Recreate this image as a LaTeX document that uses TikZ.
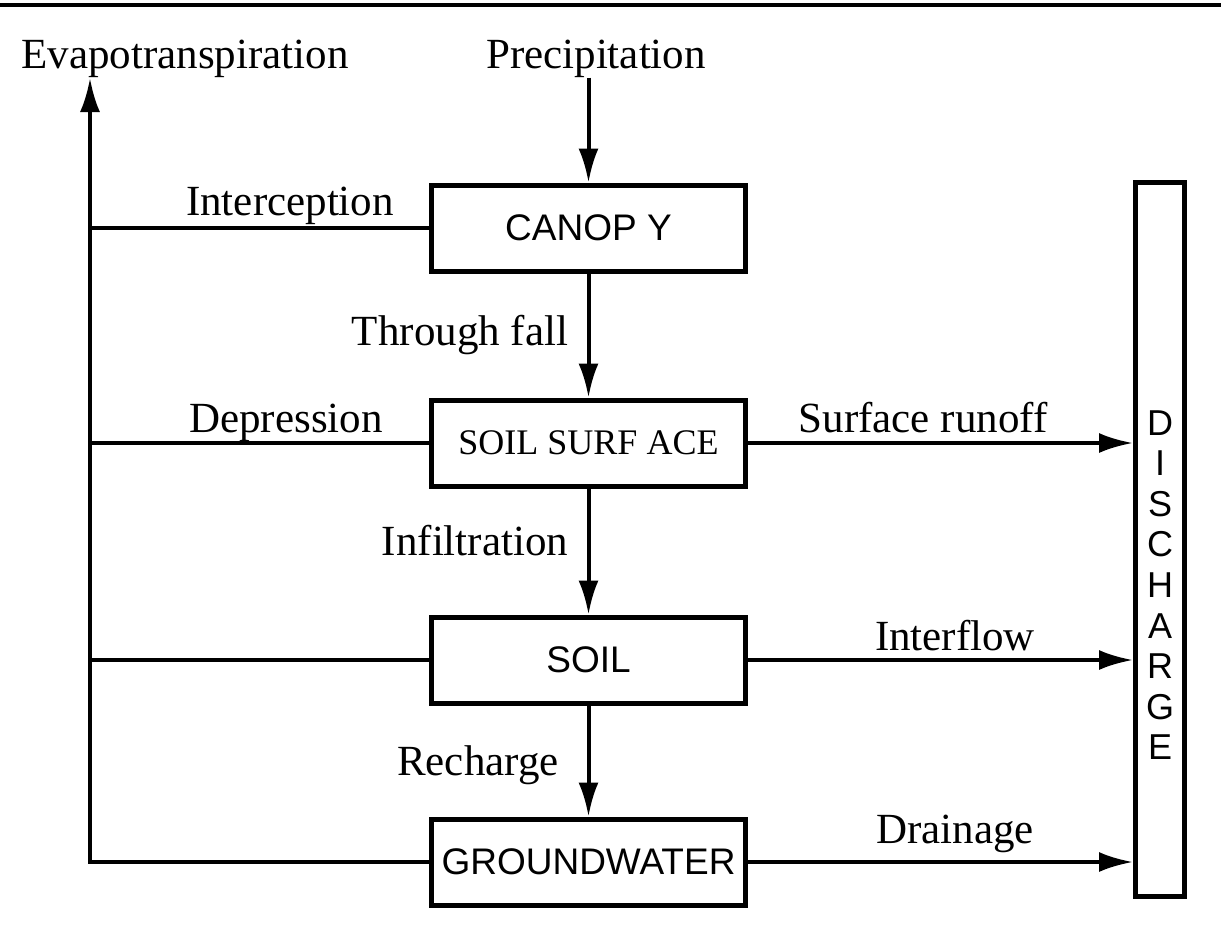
\documentclass[tikz,border=0pt]{standalone}
\usepackage{fontspec}
\setmainfont{Liberation Serif}
\setsansfont{Liberation Sans}
\usetikzlibrary{arrows.meta,positioning}

\tikzset{
  store/.style={draw, line width=2.5pt, minimum width=157pt, minimum height=43pt, inner sep=0pt,
    font=\sffamily\fontsize{18.5}{20}\selectfont},
  lbl/.style={font=\fontsize{21.5}{24}\selectfont, inner sep=0pt, anchor=base},
  flow/.style={line width=2pt},
  flowarrow/.style={flow, -{Latex[length=17pt,width=10pt]}},
}

\begin{document}
\begin{tikzpicture}[x=0.5pt,y=-0.5pt]
    \useasboundingbox (0,0) rectangle (1221,949);
    \draw[line width=2pt] (0,5) -- (1221,5);

    % storages
    \node[store] (canopy) at (588.5,228) {CANOP Y};
    \node[store,font=\fontsize{18}{20}\selectfont] (surf) at (588.5,443) {SOIL SURF ACE};
    \node[store] (soil) at (588.5,660) {SOIL};
    \node[store] (gw) at (588.5,862) {GROUNDWATER};
    \node[draw, line width=2.5pt, minimum width=24.5pt, minimum height=357pt, inner sep=0pt] (discharge) at (1160,539.5) {};
    \node[font=\sffamily\fontsize{18}{20.3}\selectfont, align=center, inner sep=0pt] (dtext) at (1160,585)
        {D\\I\\S\\C\\H\\A\\R\\G\\E};

    % inputs and outputs
    \node[lbl] (evap) at (185,68) {Evapotranspiration};
    \node[lbl] (precip) at (596,68) {Precipitation};
    \coordinate (evtop) at (90,78);

    % flux labels
    \node[lbl] (lintercept) at (290,215) {Interception};
    \node[lbl] (lthrough) at (460,345) {Through fall};
    \node[lbl] (ldepress) at (286,432) {Depression};
    \node[lbl] (lrunoff) at (923,432) {Surface runoff};
    \node[lbl] (linfil) at (475,555) {Infiltration};
    \node[lbl] (linter) at (955,650) {Interflow};
    \node[lbl] (lrecharge) at (478,775) {Recharge};
    \node[lbl] (ldrain) at (955,843) {Drainage};

    % vertical fluxes
    \draw[flowarrow] (precip.south -| canopy.north) -- (canopy.north);
    \draw[flowarrow] (canopy) -- (surf);
    \draw[flowarrow] (surf) -- (soil);
    \draw[flowarrow] (soil) -- (gw);

    % evapotranspiration
    \draw[flowarrow] (gw.west) -| (evtop);
    \draw[flow] (canopy.west) -- (canopy.west -| evtop);
    \draw[flow] (surf.west) -- (surf.west -| evtop);
    \draw[flow] (soil.west) -- (soil.west -| evtop);

    % discharge
    \draw[flowarrow] (surf.east) -- (surf.east -| discharge.west);
    \draw[flowarrow] (soil.east) -- (soil.east -| discharge.west);
    \draw[flowarrow] (gw.east) -- (gw.east -| discharge.west);
\end{tikzpicture}
\end{document}
